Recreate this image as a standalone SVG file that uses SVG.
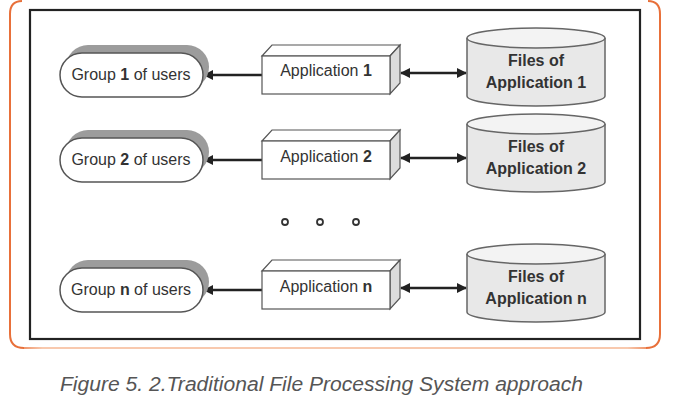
<svg xmlns="http://www.w3.org/2000/svg" width="678" height="415" viewBox="0 0 678 415">
<style>
.pill{fill:#fff;stroke:#555;stroke-width:1.5}
.shadow{fill:#9c9c9c}
.face{fill:#fff;stroke:#555;stroke-width:1.2}
.side{fill:#dcdcdc;stroke:#555;stroke-width:1.2}
.cyl{fill:#e8e8e8;stroke:#666;stroke-width:1.5}
.cyltop{fill:#f3f3f3;stroke:#666;stroke-width:1.5}
.lbl{font-family:"Liberation Sans",Arial,sans-serif;font-size:16px;fill:#333;text-anchor:middle}
.flbl{font-family:"Liberation Sans",Arial,sans-serif;font-size:16px;font-weight:bold;fill:#333;text-anchor:middle}
.b{font-weight:bold}
.conn{stroke:#222;stroke-width:2.5;fill:none}
.dot{fill:#fff;stroke:#333;stroke-width:1.8}
</style>
<defs>
<marker id="ah" viewBox="0 0 10 10" refX="9" refY="5" markerWidth="4" markerHeight="4" orient="auto-start-reverse" markerUnits="strokeWidth">
<path d="M0,0 L10,5 L0,10 z" fill="#222"/>
</marker>
<linearGradient id="og" gradientUnits="userSpaceOnUse" x1="10" y1="0" x2="660" y2="0">
<stop offset="0" stop-color="#e8703a"/>
<stop offset="0.05" stop-color="#f8c9ae"/>
<stop offset="0.95" stop-color="#f8c9ae"/>
<stop offset="1" stop-color="#e8703a"/>
</linearGradient>
</defs>
<rect width="678" height="415" fill="#fff"/>
<g id="frame">
<path d="M22,1 Q10,1 10,14 V334 Q10,348 24,348" fill="none" stroke="#e8703a" stroke-width="2"/>
<path d="M24,348 H646" fill="none" stroke="url(#og)" stroke-width="2"/>
<path d="M646,348 Q660,348 660,334 V14 Q660,1 648,1" fill="none" stroke="#e8703a" stroke-width="2"/>
<rect x="30" y="10" width="610" height="329" fill="none" stroke="#222" stroke-width="2.2"/>
</g>
<g id="connectors">
<line class="conn" x1="262" y1="75" x2="204" y2="75" marker-end="url(#ah)"/>
<line class="conn" x1="401" y1="73" x2="466" y2="73" marker-start="url(#ah)" marker-end="url(#ah)"/>
<line class="conn" x1="262" y1="160" x2="204" y2="160" marker-end="url(#ah)"/>
<line class="conn" x1="401" y1="158" x2="466" y2="158" marker-start="url(#ah)" marker-end="url(#ah)"/>
<line class="conn" x1="262" y1="290" x2="204" y2="290" marker-end="url(#ah)"/>
<line class="conn" x1="401" y1="288" x2="466" y2="288" marker-start="url(#ah)" marker-end="url(#ah)"/>
</g>
<g id="group1">
<rect class="shadow" x="66" y="45" width="143" height="44" rx="22"/>
<rect class="pill" x="60" y="53" width="143" height="44" rx="22"/>
<text class="lbl" x="131" y="80">Group <tspan class="b">1</tspan> of users</text>
</g>
<g id="app1">
<polygon class="face" points="262,56 272,45 400,45 390,56"/>
<polygon class="side" points="390,56 400,45 400,83 390,94"/>
<rect class="face" x="262" y="56" width="128" height="38"/>
<text class="lbl" x="326" y="76">Application <tspan class="b">1</tspan></text>
</g>
<g id="files1">
<path class="cyl" d="M467,38 V96 A69,10 0 0 0 605,96 V38"/>
<ellipse class="cyltop" cx="536" cy="38" rx="69" ry="10"/>
<text class="flbl" x="536" y="66">Files of</text>
<text class="flbl" x="536" y="88">Application 1</text>
</g>
<g id="group2">
<rect class="shadow" x="66" y="130" width="143" height="44" rx="22"/>
<rect class="pill" x="60" y="138" width="143" height="44" rx="22"/>
<text class="lbl" x="131" y="165">Group <tspan class="b">2</tspan> of users</text>
</g>
<g id="app2">
<polygon class="face" points="262,141 272,130 400,130 390,141"/>
<polygon class="side" points="390,141 400,130 400,168 390,179"/>
<rect class="face" x="262" y="141" width="128" height="38"/>
<text class="lbl" x="326" y="162">Application <tspan class="b">2</tspan></text>
</g>
<g id="files2">
<path class="cyl" d="M467,124 V182 A69,10 0 0 0 605,182 V124"/>
<ellipse class="cyltop" cx="536" cy="124" rx="69" ry="10"/>
<text class="flbl" x="536" y="152">Files of</text>
<text class="flbl" x="536" y="174">Application 2</text>
</g>
<g id="ellipsis">
<circle class="dot" cx="285" cy="222" r="3"/>
<circle class="dot" cx="320" cy="222" r="3"/>
<circle class="dot" cx="356" cy="222" r="3"/>
</g>
<g id="groupn">
<rect class="shadow" x="66" y="260" width="143" height="44" rx="22"/>
<rect class="pill" x="60" y="268" width="143" height="44" rx="22"/>
<text class="lbl" x="131" y="295">Group <tspan class="b">n</tspan> of users</text>
</g>
<g id="appn">
<polygon class="face" points="262,271 272,260 400,260 390,271"/>
<polygon class="side" points="390,271 400,260 400,298 390,309"/>
<rect class="face" x="262" y="271" width="128" height="38"/>
<text class="lbl" x="326" y="292">Application <tspan class="b">n</tspan></text>
</g>
<g id="filesn">
<path class="cyl" d="M467,254 V312 A69,10 0 0 0 605,312 V254"/>
<ellipse class="cyltop" cx="536" cy="254" rx="69" ry="10"/>
<text class="flbl" x="536" y="282">Files of</text>
<text class="flbl" x="536" y="304">Application n</text>
</g>
<text x="60" y="391" font-family="Liberation Sans, Arial, sans-serif" font-size="20.5" font-style="italic" fill="#555" textLength="523" lengthAdjust="spacingAndGlyphs">Figure 5. 2.Traditional File Processing System approach</text>
</svg>
